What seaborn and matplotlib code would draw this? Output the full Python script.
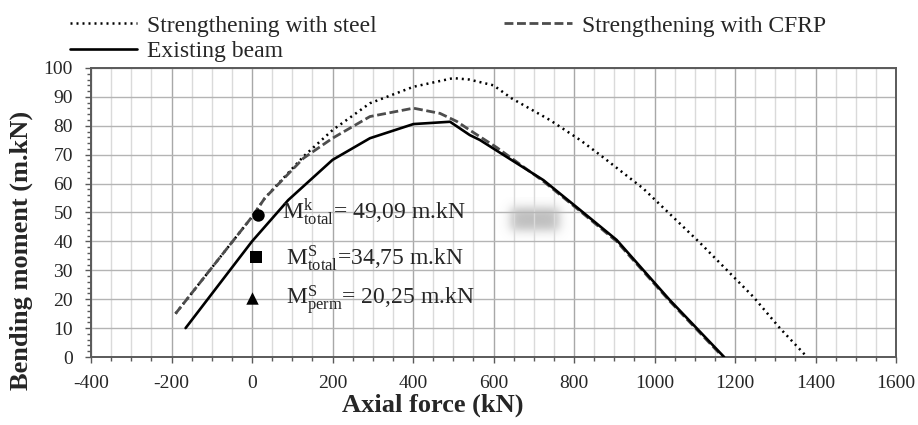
import numpy as np
import pandas as pd
import matplotlib
matplotlib.use("Agg")
import matplotlib.pyplot as plt
from matplotlib.ticker import MultipleLocator
import seaborn as sns

# Interaction curves: axial force (kN) vs bending moment (m.kN)
steel_n = [-190, 0, 32, 128, 200, 293, 401, 500, 540, 600, 645, 740, 815, 865, 972, 1113, 1245, 1312, 1379]
steel_m = [15, 48.5, 55, 69.4, 78.5, 87.8, 93.5, 96.5, 96.0, 94.0, 89.5, 82.0, 75.1, 69.9, 58.3, 39.5, 20.9, 9.9, 0]

cfrp_n = [-190, 0, 32, 128, 200, 293, 401, 467, 509, 541, 608, 724, 815, 906, 1038, 1170]
cfrp_m = [15, 48.5, 55, 68.8, 75.7, 83.2, 86.1, 84.3, 81.5, 78.5, 72.5, 60.8, 50.5, 40.0, 19.3, 0]

beam_n = [-165, 0, 90, 200, 293, 401, 492, 541, 566, 724, 815, 906, 1038, 1173]
beam_m = [10, 40, 54.3, 68.2, 75.7, 80.6, 81.4, 76.8, 75.1, 61.2, 50.9, 40.5, 19.7, 0]

# Design moments
moment_n = [15, 10, 0]
moment_m = [49.09, 34.75, 20.25]
moment_labels = [r"$\mathrm{M}^{\mathrm{k}}_{\mathrm{total}}$= 49,09 m.kN",
                 r"$\mathrm{M}^{\mathrm{S}}_{\mathrm{total}}$=34,75 m.kN",
                 r"$\mathrm{M}^{\mathrm{S}}_{\mathrm{perm}}$= 20,25 m.kN"]
label_n = [74, 84, 84]
label_m = [48.0, 31.8, 18.0]

x_ticks = list(range(-400, 1601, 200))
y_ticks = list(range(0, 101, 10))

sns.set_style("ticks")
plt.rcParams["font.family"] = ["Liberation Serif"]
plt.rcParams["mathtext.fontset"] = "custom"
plt.rcParams["mathtext.rm"] = "Liberation Serif"
plt.rcParams["mathtext.it"] = "Liberation Serif:italic"

fig = plt.figure(figsize=(9.18, 4.25), dpi=100)
ax = fig.add_axes([91 / 918, 68 / 425, 805 / 918, 289 / 425])

# grid
ax.set_axisbelow(True)
ax.xaxis.set_major_locator(MultipleLocator(200))
ax.xaxis.set_minor_locator(MultipleLocator(50))
ax.yaxis.set_major_locator(MultipleLocator(10))
ax.yaxis.set_minor_locator(MultipleLocator(2))
ax.grid(axis="x", which="major", color="#a8a8a8", lw=1.0, zorder=0.5)
ax.grid(axis="x", which="minor", color="#dadada", lw=1.0, zorder=0.4)
ax.grid(axis="y", which="major", color="#b4b4b4", lw=1.0, zorder=0.5)

# soft gray patch
h, w = 42, 78
yy, xx = np.mgrid[0:h, 0:w]
def smooth(v, a, b, s=3.0):
    return 1 / (1 + np.exp(-(v - a) / s)) * 1 / (1 + np.exp((v - b) / s))
alpha = smooth(xx, 15, 63) * smooth(yy, 10, 32) * 0.72
img = np.zeros((h, w, 4))
img[..., :3] = 0.64
img[..., 3] = alpha
ax.imshow(img, extent=(0.5019, 0.5988, 0.4048, 0.5502), transform=ax.transAxes,
          aspect="auto", zorder=0.3, interpolation="bilinear")

sns.lineplot(x=steel_n, y=steel_m, ax=ax, sort=False, color="black", lw=1.8,
             linestyle=(0, (0.8, 1.6)), label="Strengthening with steel", zorder=3)
sns.lineplot(x=beam_n, y=beam_m, ax=ax, sort=False, color="black", lw=1.9,
             linestyle="-", label="Existing beam", zorder=4)
sns.lineplot(x=cfrp_n, y=cfrp_m, ax=ax, sort=False, color="#4d4d4d", lw=2.0,
             linestyle=(0, (3.2, 1.3)), label="Strengthening with CFRP", zorder=3)

for mk, xv, yv in zip(["o", "s", "^"], moment_n, moment_m):
    sns.scatterplot(x=[xv], y=[yv], ax=ax, marker=mk, s=80, color="black",
                    edgecolor="black", linewidth=0, zorder=5, legend=False)
for txt, xv, yv in zip(moment_labels, label_n, label_m):
    ax.text(xv, yv, txt, fontsize=17, va="baseline", ha="left", zorder=6)

ax.set_xlim(-400, 1600)
ax.set_ylim(0, 100)
ax.set_xticks(x_ticks)
ax.set_yticks(y_ticks)
ax.set_xticklabels([str(t) for t in x_ticks])
ax.set_yticklabels([str(t) for t in y_ticks])
ax.tick_params(axis="both", which="major", labelsize=14, length=4, width=1,
               color="#595959", direction="out")
ax.tick_params(axis="x", which="major", pad=9)
ax.tick_params(axis="y", which="major", pad=9)
ax.tick_params(axis="both", which="minor", length=3, width=1, color="#595959")

for sp in ax.spines.values():
    sp.set_visible(True)
    sp.set_color("#5a5a5a")
    sp.set_linewidth(1.4)

ax.set_xlabel("Axial force (kN)", fontsize=19, fontweight="bold")
ax.set_ylabel("Bending moment (m.kN)", fontsize=19, fontweight="bold")
ax.xaxis.set_label_coords(0.425, -0.125)
ax.yaxis.set_label_coords(-0.072, 0.37)

handles, labels = ax.get_legend_handles_labels()
ax.legend(handles[:3], labels[:3], ncol=2, loc="upper left",
          bbox_to_anchor=(70 / 918, 1 - 15 / 425), bbox_transform=fig.transFigure,
          frameon=False, fontsize=17, handlelength=2.85, handletextpad=0.42,
          columnspacing=5.4, labelspacing=0.18, borderpad=0, borderaxespad=0)

fig.savefig("out.png", dpi=100)
